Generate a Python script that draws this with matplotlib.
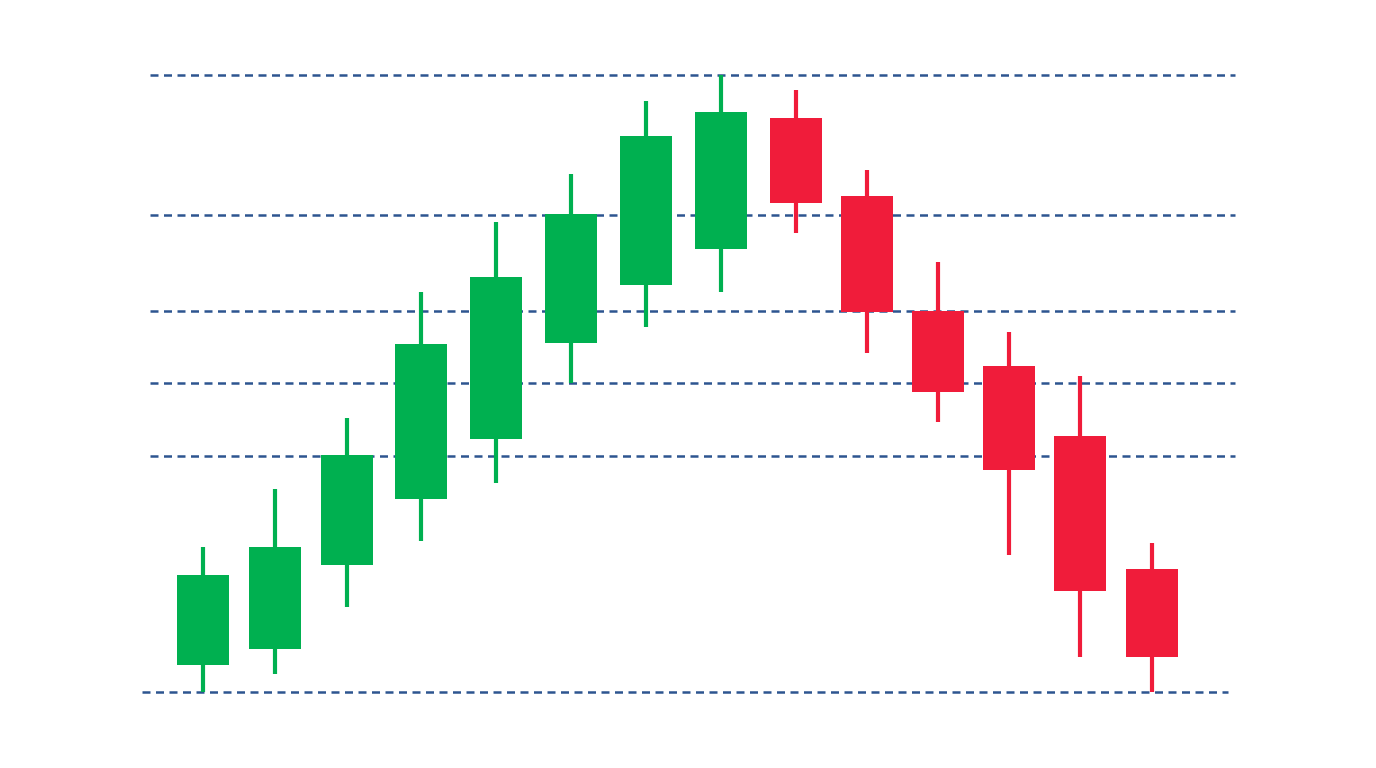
import numpy as np
import matplotlib
matplotlib.use("Agg")
import matplotlib.pyplot as plt
from matplotlib.patches import Rectangle

# candle data (arbitrary price units), sessions on a slightly uneven time axis
sessions = [0.0, 0.99, 1.97, 2.99, 4.01, 5.04, 6.07, 7.10, 8.12, 9.10, 10.07, 11.04, 12.01, 13.0]
opens = [103, 119, 203, 269, 329, 425, 483, 519, 650, 572, 457, 402, 332, 199]
highs = [221, 279, 350, 476, 546, 594, 667, 693, 678, 598, 506, 436, 392, 225]
lows = [76, 94, 161, 227, 285, 385, 441, 476, 535, 415, 346, 213, 111, 76]
closes = [193, 221, 313, 424, 491, 554, 632, 656, 565, 456, 376, 298, 177, 111]

# dashed reference levels
levels = [693, 553, 457, 385, 312]
base_level = 76

GREEN = '#00b050'
RED = '#f01c3a'
LINE = '#2d5590'

fig = plt.figure(figsize=(13.76, 7.68), dpi=100)
ax = fig.add_axes([0, 0, 1, 1])
ax.set_xlim(-2.781, 16.068)
ax.set_ylim(0, 768)
ax.axis('off')

for lvl in levels:
    ax.hlines(lvl, -0.726, 14.14, colors=LINE, linestyles=(0, (3.2, 2.2)),
              linewidth=1.8, zorder=1)
ax.hlines(base_level, -0.836, 14.04, colors=LINE, linestyles=(0, (3.2, 2.2)),
          linewidth=1.8, zorder=1)

width = 0.71
for x, o, h, l, c in zip(sessions, opens, highs, lows, closes):
    col = GREEN if c >= o else RED
    ax.vlines(x, l, h, colors=col, linewidth=3, zorder=2)
    ax.add_patch(Rectangle((x - width / 2, min(o, c)), width, abs(c - o),
                           facecolor=col, edgecolor='none', zorder=3))

fig.savefig('out.png', dpi=100, facecolor='white')
